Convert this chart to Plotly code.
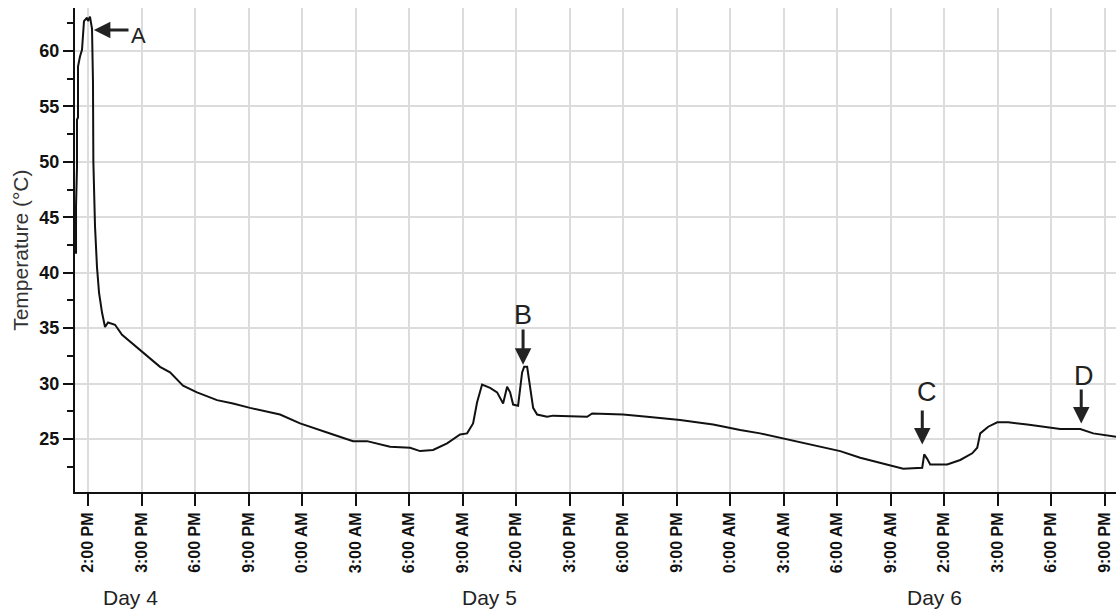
import plotly.graph_objects as go

# time position in units of tick index (ticks are evenly spaced)
time_pos = [-0.224, -0.224, -0.206, -0.206, -0.187, -0.187, -0.15, -0.112, -0.075, -0.019,
            0.0, 0.037, 0.075, 0.093, 0.1, 0.131, 0.168, 0.206, 0.262, 0.318,
            0.374, 0.505, 0.636, 1.009, 1.346, 1.533, 1.776, 2.037, 2.411, 2.710,
            3.028, 3.589, 3.963, 4.579, 4.953, 5.215, 5.645, 6.019, 6.206, 6.449,
            6.710, 6.953, 7.084, 7.196, 7.271, 7.364, 7.514, 7.645, 7.757, 7.832,
            7.888, 7.944, 8.037, 8.112, 8.150, 8.206, 8.262, 8.318, 8.393, 8.579,
            8.692, 9.327, 9.421, 10.0, 10.449, 11.065, 11.682, 12.187, 12.561, 12.935,
            13.495, 14.056, 14.430, 15.047, 15.234, 15.589, 15.626, 15.682, 15.738, 16.056,
            16.299, 16.523, 16.617, 16.673, 16.822, 16.991, 17.196, 17.551, 18.168, 18.542,
            18.785, 19.215]

temps = [41.7, 46.0, 49.5, 53.8, 54.0, 58.6, 59.5, 60.1, 62.7, 63.0,
         62.7, 63.1, 62.0, 57.2, 50.0, 44.2, 40.5, 38.2, 36.4, 35.1,
         35.5, 35.3, 34.4, 32.9, 31.5, 31.0, 29.8, 29.2, 28.5, 28.2,
         27.8, 27.2, 26.4, 25.4, 24.8, 24.8, 24.3, 24.2, 23.9, 24.0,
         24.6, 25.4, 25.5, 26.4, 28.3, 29.9, 29.6, 29.2, 28.2, 29.7,
         29.2, 28.1, 28.0, 31.0, 31.5, 31.5, 29.7, 27.8, 27.2, 27.0,
         27.1, 27.0, 27.3, 27.2, 27.0, 26.7, 26.3, 25.8, 25.5, 25.1,
         24.5, 23.9, 23.3, 22.5, 22.3, 22.4, 23.6, 23.2, 22.7, 22.7,
         23.1, 23.7, 24.2, 25.5, 26.1, 26.5, 26.5, 26.3, 25.9, 25.9,
         25.5, 25.2]

tick_labels = ["2:00 PM", "3:00 PM", "6:00 PM", "9:00 PM", "0:00 AM", "3:00 AM", "6:00 AM",
               "9:00 AM", "2:00 PM", "3:00 PM", "6:00 PM", "9:00 PM", "0:00 AM", "3:00 AM",
               "6:00 AM", "9:00 AM", "2:00 PM", "3:00 PM", "6:00 PM", "9:00 PM"]
y_ticks = [25, 30, 35, 40, 45, 50, 55, 60]

day_labels = ["Day 4", "Day 5", "Day 6"]
day_pos = [0.785, 7.5, 15.81]

# markers: label, arrow head (x, y), arrow tail (x, y), label position (x, y)
marker_labels = ["A", "B", "C", "D"]
marker_head = [(0.11, 61.9), (8.13, 31.7), (15.59, 24.5), (18.56, 26.4)]
marker_tail = [(0.785, 61.9), (8.13, 35.0), (15.59, 27.7), (18.56, 29.6)]
marker_text = [(0.935, 61.4), (8.13, 36.2), (15.68, 29.25), (18.62, 30.65)]

FONT = "Liberation Sans, Arial, sans-serif"

fig = go.Figure()
fig.add_trace(go.Scatter(x=time_pos, y=temps, mode="lines",
                         line=dict(color="#111111", width=2), showlegend=False))

annotations = []
for lab, (hx, hy), (tx, ty), (lx, ly) in zip(marker_labels, marker_head, marker_tail, marker_text):
    annotations.append(dict(x=hx, y=hy, ax=tx, ay=ty, xref="x", yref="y", axref="x", ayref="y",
                            text="", showarrow=True, arrowhead=2, arrowsize=1.1,
                            arrowwidth=3, arrowcolor="#222222"))
    annotations.append(dict(x=lx, y=ly, xref="x", yref="y", text=lab, showarrow=False,
                            font=dict(family=FONT, size=22 if lab == "A" else 27, color="#222222")))

for lab, px in zip(day_labels, day_pos):
    annotations.append(dict(x=px, y=-0.217, xref="x", yref="paper", text=lab, showarrow=False,
                            xanchor="center", yanchor="middle",
                            font=dict(family=FONT, size=21, color="#222222")))

annotations.append(dict(x=-0.053, y=0.5, xref="paper", yref="paper", text="Temperature (°C)",
                        textangle=-90, showarrow=False, xanchor="center", yanchor="middle",
                        font=dict(family=FONT, size=21, color="#333333")))

fig.update_layout(
    width=1116, height=610,
    margin=dict(l=75, r=0, t=8, b=118),
    paper_bgcolor="white", plot_bgcolor="white",
    annotations=annotations,
    xaxis=dict(range=[-0.243, 19.21], tickmode="array", tickvals=list(range(len(tick_labels))),
               ticktext=tick_labels, tickangle=-90, ticks="outside", ticklen=12, tickwidth=2,
               tickcolor="#111111", showline=True, linecolor="#111111", linewidth=2,
               showgrid=True, gridcolor="#dcdcdc", gridwidth=1.5, zeroline=False,
               automargin=False,
               tickfont=dict(family=FONT, size=16, color="#111111", weight="bold")),
    yaxis=dict(range=[20.21, 63.88], tickmode="array", tickvals=y_ticks,
               ticks="outside", ticklen=10, tickwidth=2, tickcolor="#111111",
               showline=True, linecolor="#111111", linewidth=2,
               showgrid=True, gridcolor="#dcdcdc", gridwidth=1.5, zeroline=False,
               automargin=False,
               tickfont=dict(family=FONT, size=18, color="#111111", weight="bold"),
               minor=dict(dtick=2.5, tick0=0, ticks="outside", ticklen=6, tickwidth=2,
                          tickcolor="#111111", showgrid=False)),
)

fig.write_html("out.html", config={"displayModeBar": False},
               post_script="document.body.style.margin='0';")
